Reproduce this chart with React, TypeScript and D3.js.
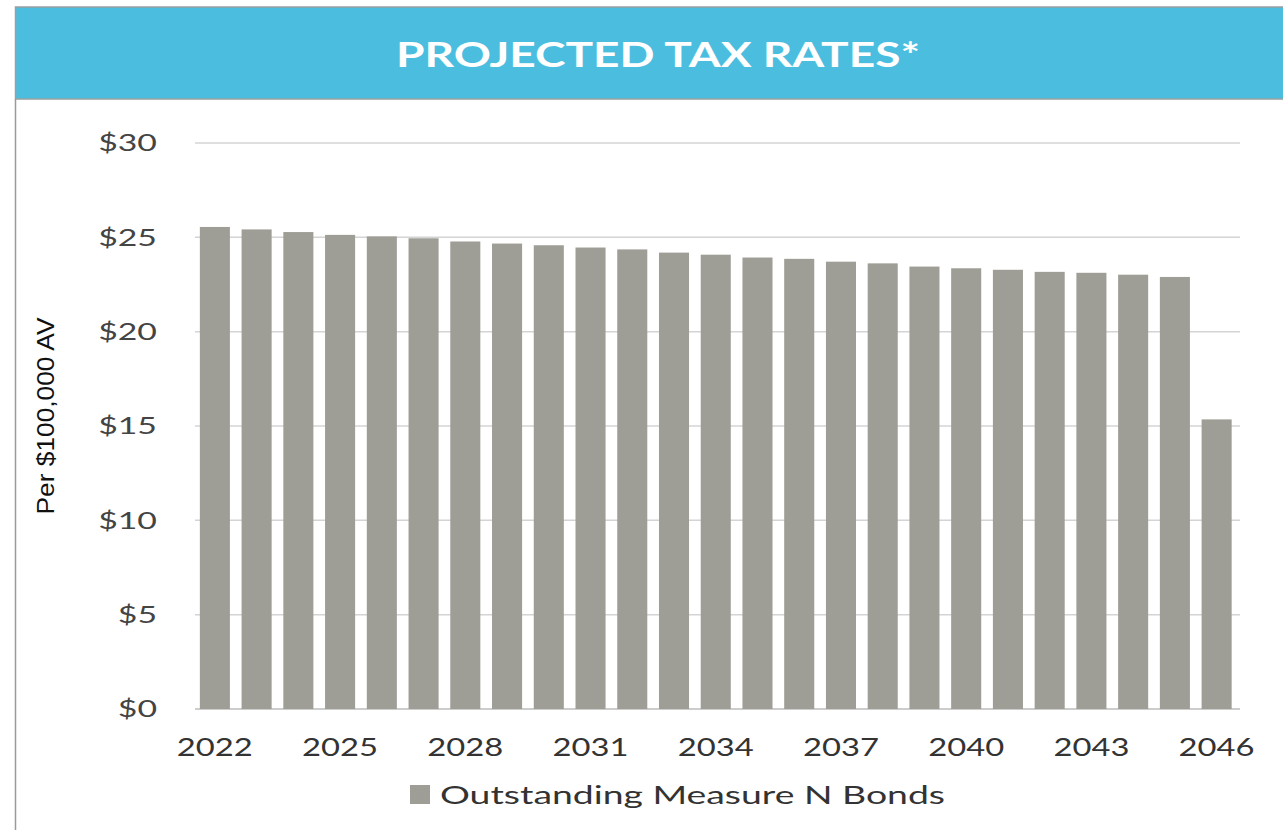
import React from "react";
import * as d3 from "d3";

const years: string[] = [
  "2022","2023","2024","2025","2026","2027","2028","2029","2030","2031","2032","2033","2034",
  "2035","2036","2037","2038","2039","2040","2041","2042","2043","2044","2045","2046",
];
const rates: number[] = [
  25.55, 25.42, 25.28, 25.13, 25.05, 24.95, 24.78, 24.67, 24.58, 24.46, 24.36, 24.19, 24.08,
  23.93, 23.86, 23.71, 23.62, 23.45, 23.36, 23.28, 23.17, 23.12, 23.02, 22.9, 15.35,
];
const yTicks: number[] = [0, 5, 10, 15, 20, 25, 30];
const xTickLabels: string[] = ["2022","2025","2028","2031","2034","2037","2040","2043","2046"];
const title = "PROJECTED TAX RATES*";
const yTitle = "Per $100,000 AV";
const seriesName = "Outstanding Measure N Bonds";

const W = 1283;
const H = 830;
const BAR = "#9e9d96";
const FONT = "Lato, 'Open Sans', sans-serif";

export default function App() {
  const x = d3.scaleBand<string>().domain(years).range([194, 1237.5]).paddingInner(0.28).paddingOuter(0.14);
  const y = d3.scaleLinear().domain([0, 30]).range([709, 143]);
  const data = years.map((yr, i) => ({ yr, v: rates[i] }));
  const fmt = (v: number) => `$${v}`;
  return (
    <svg width={W} height={H} style={{ position: "absolute", left: 0, top: 0, background: "#fff" }}>
      <rect x={0} y={0} width={W} height={H} fill="#fff" />
      {/* header */}
      <rect x={15.5} y={7} width={W} height={92} fill="#4bbee0" stroke="#98a0a2" strokeWidth={1.5} />
      <line x1={15.5} x2={15.5} y1={99} y2={H} stroke="#9a9a9a" strokeWidth={1.5} />
      <text x={658} y={67} textAnchor="middle" fill="#fff" fontFamily={FONT} fontWeight={700}
        fontSize={34} textLength={524} lengthAdjust="spacingAndGlyphs">{title}</text>
      {/* gridlines */}
      {yTicks.map((t) => (
        <line key={t} x1={195} x2={1240} y1={y(t)} y2={y(t)} stroke={t === 0 ? "#bdbdbd" : "#d4d4d4"} strokeWidth={1.5} />
      ))}
      {/* y labels */}
      {yTicks.map((t) => {
        const s = fmt(t);
        return (
          <text key={t} x={157} y={y(t)} dy="0.36em" textAnchor="end" fill="#444" fontFamily={FONT}
            fontSize={23} textLength={s.length * 19.6} lengthAdjust="spacingAndGlyphs">{s}</text>
        );
      })}
      {/* bars */}
      {data.map((d) => (
        <rect key={d.yr} x={x(d.yr)} y={y(d.v)} width={x.bandwidth()} height={y(0) - y(d.v)} fill={BAR} />
      ))}
      {/* x labels */}
      {xTickLabels.map((l) => (
        <text key={l} x={(x(l) ?? 0) + x.bandwidth() / 2} y={756} textAnchor="middle" fill="#333"
          fontFamily={FONT} fontSize={25} textLength={l.length * 19} lengthAdjust="spacingAndGlyphs">{l}</text>
      ))}
      {/* y title */}
      <text transform={`translate(54,416) rotate(-90)`} textAnchor="middle" fill="#111"
        fontFamily="'Liberation Sans', Arial, sans-serif" fontSize={23} textLength={197}
        lengthAdjust="spacingAndGlyphs">{yTitle}</text>
      {/* legend */}
      <rect x={410} y={785} width={20} height={19} fill={BAR} />
      <text x={440} y={804} fill="#333" fontFamily={FONT} fontSize={25} textLength={505}
        lengthAdjust="spacingAndGlyphs">{seriesName}</text>
    </svg>
  );
}
